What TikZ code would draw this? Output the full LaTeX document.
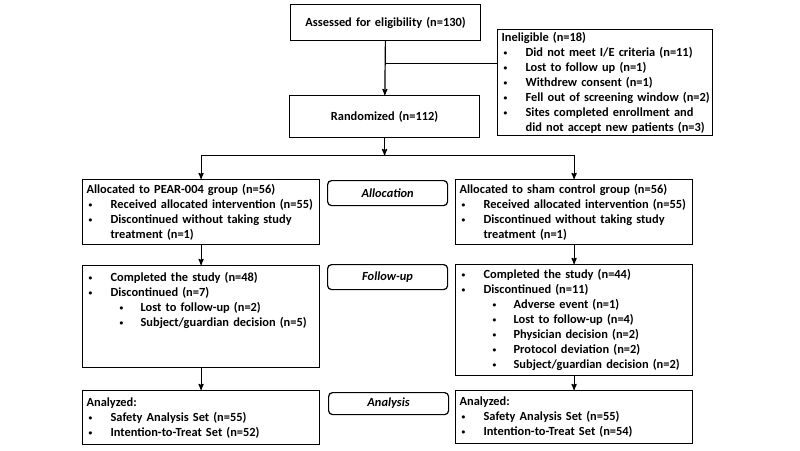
\documentclass[tikz,border=0pt]{standalone}
\usepackage{fontspec}
\setmainfont{Carlito}
\usepackage{tikz}
\usetikzlibrary{positioning,arrows}
\newcommand{\bul}{\hspace*{2pt}\makebox[22pt][l]{\raisebox{0.15ex}{\scalebox{0.6}{\textbullet}}}}
\newcommand{\subbul}{\hspace*{33pt}\makebox[21pt][l]{\raisebox{0.15ex}{\scalebox{0.6}{\textbullet}}}}
\newcommand{\cont}{\hspace*{24pt}}
\tikzset{
  box/.style = {draw, anchor=north west, align=left, inner xsep=4pt,
    inner ysep=2pt, text width=229pt,
    font=\fontsize{12.4}{15}\selectfont\bfseries},
  topbox/.style = {box, align=center, text width=182pt},
  phase/.style = {draw, rounded corners=4pt, anchor=north west, inner sep=0pt,
    minimum width=120pt, minimum height=25pt,
    font=\fontsize{12.4}{14}\selectfont\bfseries\itshape}
}
\begin{document}
\begin{tikzpicture}[x=1pt,y=-1pt,line width=1.2pt,>=stealth']
\useasboundingbox[fill=white] (0,0) rectangle (800,450);
% enrollment
\node [topbox, minimum height=36pt] (assess) at (290,4) {Assessed for eligibility (n=130)};
\node [box, text width=207pt, minimum height=106pt] (inelig) at (497,29) {Ineligible (n=18)\\
  \bul Did not meet I/E criteria (n=11)\\
  \bul Lost to follow up (n=1)\\
  \bul Withdrew consent (n=1)\\
  \bul \mbox{Fell out of screening window (n=2)}\\
  \bul Sites completed enrollment and\\
  \cont did not accept new patients (n=3)};
\node [topbox, minimum height=42pt] (rand) at (289,95) {Randomized (n=112)};
% allocation
\node [box, minimum height=65pt] (allocA) at (82,179) {Allocated to PEAR-004 group (n=56)\\
  \bul Received allocated intervention (n=55)\\
  \bul Discontinued without taking study\\
  \cont treatment (n=1)};
\node [phase] (allocation) at (327,180) {Allocation};
\node [box, minimum height=65pt] (allocB) at (455,179) {Allocated to sham control group (n=56)\\
  \bul Received allocated intervention (n=55)\\
  \bul Discontinued without taking study\\
  \cont treatment (n=1)};
% follow-up
\node [box, inner ysep=7pt, text depth=79pt] (fuA) at (82,265) {\bul Completed the study (n=48)\\
  \bul Discontinued (n=7)\\
  \subbul Lost to follow-up (n=2)\\
  \subbul Subject/guardian decision (n=5)};
\node [phase] (followup) at (327,264) {Follow-up};
\node [box, minimum height=111pt] (fuB) at (455,264) {\bul Completed the study (n=44)\\
  \bul Discontinued (n=11)\\
  \subbul Adverse event (n=1)\\
  \subbul Lost to follow-up (n=4)\\
  \subbul Physician decision (n=2)\\
  \subbul Protocol deviation (n=2)\\
  \subbul Subject/guardian decision (n=2)};
% analysis
\node [box, minimum height=54pt] (anA) at (82,390) {Analyzed:\\
  \bul Safety Analysis Set (n=55)\\
  \bul Intention-to-Treat Set (n=52)};
\node [phase, minimum height=22pt] (analysis) at (328,392) {Analysis};
\node [box, minimum height=53pt] (anB) at (455,390) {Analyzed:\\
  \bul Safety Analysis Set (n=55)\\
  \bul Intention-to-Treat Set (n=54)};
% connectors
\path (assess.south) ++(0,22) coordinate (split);
\path (rand.south) ++(0,17) coordinate (fork);
\draw [->] (assess) -- (rand);
\draw (split) -- (split -| inelig.west);
\draw [->] (rand) -- (fork);
\draw (allocA.north |- fork) -- (allocB.north |- fork);
\draw [->] (allocA.north |- fork) -- (allocA);
\draw [->] (allocB.north |- fork) -- (allocB);
\draw [->] (allocA) -- (fuA);
\draw [->] (allocB) -- (fuB);
\draw [->] (fuA) -- (anA);
\draw [->] (fuB) -- (anB);
\end{tikzpicture}
\end{document}
